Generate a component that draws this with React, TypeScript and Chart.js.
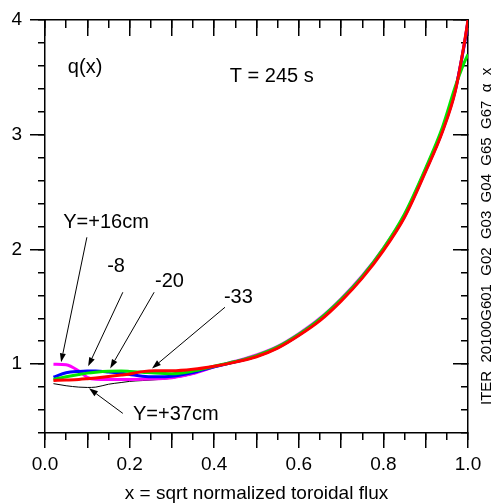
import React, { useEffect, useRef } from 'react';
import { Chart, registerables } from 'chart.js';

Chart.register(...registerables);

const FONT = '"Liberation Sans", Arial, Helvetica, sans-serif';

// x = sqrt normalized toroidal flux
const xValues = [0.02, 0.05, 0.08, 0.1, 0.12, 0.15, 0.18, 0.2, 0.23, 0.26, 0.3, 0.35, 0.4, 0.45, 0.5, 0.55, 0.6, 0.65, 0.7, 0.75, 0.8, 0.85, 0.9, 0.94, 0.97, 0.99, 1.0];

// q(x) for each vertical position
const qYminus33 = [0.858, 0.862, 0.867, 0.873, 0.88, 0.892, 0.905, 0.915, 0.935, 0.943, 0.942, 0.955, 0.982, 1.018, 1.065, 1.14, 1.25, 1.38, 1.55, 1.75, 1.99, 2.28, 2.68, 3.03, 3.38, 3.77, 4.0];
const qYminus20 = [0.867, 0.89, 0.91, 0.922, 0.93, 0.938, 0.94, 0.937, 0.93, 0.922, 0.917, 0.94, 0.982, 1.023, 1.075, 1.15, 1.26, 1.395, 1.565, 1.765, 2.01, 2.31, 2.71, 3.07, 3.42, 3.62, 3.7];
const qYminus8 = [0.887, 0.925, 0.937, 0.94, 0.94, 0.932, 0.92, 0.91, 0.895, 0.89, 0.895, 0.927, 0.978, 1.02, 1.07, 1.145, 1.255, 1.39, 1.56, 1.76, 2.0, 2.29, 2.69, 3.04, 3.39, 3.76, 3.99];
const qYplus16 = [1.0, 0.995, 0.94, 0.885, 0.868, 0.866, 0.867, 0.867, 0.868, 0.872, 0.882, 0.918, 0.976, 1.025, 1.08, 1.155, 1.265, 1.4, 1.57, 1.77, 2.01, 2.3, 2.7, 3.05, 3.39, 3.76, 3.99];
const qYplus37 = [0.83, 0.812, 0.8, 0.797, 0.8, 0.825, 0.84, 0.85, 0.857, 0.864, 0.877, 0.912, 0.972, 1.013, 1.06, 1.135, 1.245, 1.375, 1.545, 1.745, 1.985, 2.275, 2.675, 3.02, 3.38, 3.76, 3.99];

const seriesNames = ['Y=-33cm', 'Y=-20cm', 'Y=-8cm', 'Y=+16cm', 'Y=+37cm'];
const seriesValues = [qYminus33, qYminus20, qYminus8, qYplus16, qYplus37];
const seriesColors = ['#ff0000', '#00e600', '#0000ff', '#ff00ff', '#000000'];
const seriesWidths = [3, 3, 3, 3, 1];

// Axis ticks
const xMin = 0, xMax = 1, xMajorStep = 0.1, xMinorStep = 0.05;
const yMin = 0.4, yMax = 4, yMajorStep = 1, yMinorStep = 0.2;

// Text annotations (data coordinates of text baseline start)
const noteTexts = ['q(x)', 'T = 245 s', 'Y=+16cm', '-8', '-20', '-33', 'Y=+37cm'];
const noteX = [0.054, 0.437, 0.043, 0.147, 0.26, 0.423, 0.208];
const noteY = [3.537, 3.462, 2.185, 1.8, 1.67, 1.53, 0.51];

// Arrows: from (start) to (tip), in data coordinates
const arrowStartX = [0.099, 0.184, 0.258, 0.4255, 0.184];
const arrowStartY = [2.106, 1.627, 1.627, 1.496, 0.571];
const arrowTipX = [0.038, 0.102, 0.154, 0.253, 0.104];
const arrowTipY = [1.016, 0.981, 0.963, 0.963, 0.789];

const stampText = 'ITER  20100G601  G02  G03  G04  G65  G67  α  x';
const xTitle = 'x = sqrt normalized toroidal flux';

const annotationPlugin = {
  id: 'qAnnotations',
  afterDatasetsDraw(chart: any) {
    const { ctx, chartArea } = chart;
    const xs = chart.scales.x;
    const ys = chart.scales.y;
    ctx.save();
    ctx.fillStyle = '#000';
    ctx.strokeStyle = '#000';
    ctx.font = `20px ${FONT}`;
    ctx.textAlign = 'left';
    ctx.textBaseline = 'alphabetic';
    noteTexts.forEach((t, i) => {
      ctx.fillText(t, xs.getPixelForValue(noteX[i]), ys.getPixelForValue(noteY[i]));
    });
    ctx.lineWidth = 1;
    arrowStartX.forEach((_, i) => {
      const sx = xs.getPixelForValue(arrowStartX[i]);
      const sy = ys.getPixelForValue(arrowStartY[i]);
      const tx = xs.getPixelForValue(arrowTipX[i]);
      const ty = ys.getPixelForValue(arrowTipY[i]);
      const ang = Math.atan2(ty - sy, tx - sx);
      const len = 9, hw = 3;
      const bx = tx - len * Math.cos(ang);
      const by = ty - len * Math.sin(ang);
      ctx.beginPath();
      ctx.moveTo(sx, sy);
      ctx.lineTo(bx, by);
      ctx.stroke();
      ctx.beginPath();
      ctx.moveTo(tx, ty);
      ctx.lineTo(bx + hw * Math.sin(ang), by - hw * Math.cos(ang));
      ctx.lineTo(bx - hw * Math.sin(ang), by + hw * Math.cos(ang));
      ctx.closePath();
      ctx.fill();
    });
    ctx.translate(chartArea.right + 19, chartArea.bottom - 28);
    ctx.rotate(-Math.PI / 2);
    ctx.font = `15px ${FONT}`;
    ctx.textBaseline = 'middle';
    ctx.fillText(stampText, 0, 0);
    ctx.restore();
  },
};

const tickGrid = (len: number) => ({
  drawOnChartArea: false,
  drawTicks: true,
  tickLength: len,
  tickColor: '#000',
  tickWidth: 1.5,
  color: '#000',
  lineWidth: 1.5,
});

export default function App() {
  const canvasRef = useRef<HTMLCanvasElement | null>(null);

  useEffect(() => {
    document.body.style.margin = '0';
    const canvas = canvasRef.current;
    if (!canvas) return;
    const datasets = seriesValues.map((vals, i) => ({
      label: seriesNames[i],
      data: xValues.map((xv, j) => ({ x: xv, y: vals[j] })),
      borderColor: seriesColors[i],
      backgroundColor: seriesColors[i],
      borderWidth: seriesWidths[i],
      pointRadius: 0,
      tension: 0.3,
      cubicInterpolationMode: 'monotone' as const,
      fill: false,
    }));

    const chart = new Chart(canvas, {
      type: 'line',
      data: { datasets },
      plugins: [annotationPlugin],
      options: {
        animation: false,
        responsive: false,
        devicePixelRatio: 1,
        layout: { padding: 0 },
        plugins: { legend: { display: false }, tooltip: { enabled: false } },
        scales: {
          x: {
            type: 'linear', axis: 'x', position: 'bottom', min: xMin, max: xMax, weight: 1,
            ticks: {
              stepSize: xMajorStep, autoSkip: false, maxRotation: 0, padding: 5, color: '#000',
              font: { size: 19, family: FONT },
              callback: (v: any) => (Math.round(Number(v) * 10) % 2 === 0 ? Number(v).toFixed(1) : ''),
            },
            grid: tickGrid(15),
            border: { display: true, color: '#000', width: 1.5 },
            title: { display: true, text: xTitle, color: '#000', font: { size: 19, family: FONT, lineHeight: 1 }, padding: { top: 0, bottom: 0 } },
            afterFit: (s: any) => { s.height = 70; },
          },
          xMinor: {
            type: 'linear', axis: 'x', position: 'bottom', min: xMin, max: xMax, weight: 0,
            ticks: { stepSize: xMinorStep, display: false, autoSkip: false },
            grid: tickGrid(7),
            border: { display: false },
            afterFit: (s: any) => { s.height = 0; },
          },
          xTop: {
            type: 'linear', axis: 'x', position: 'top', min: xMin, max: xMax, weight: 1,
            ticks: { stepSize: xMajorStep, display: false, autoSkip: false },
            grid: tickGrid(-16),
            border: { display: true, color: '#000', width: 1.5 },
            afterFit: (s: any) => { s.height = 20; },
          },
          xTopMinor: {
            type: 'linear', axis: 'x', position: 'top', min: xMin, max: xMax, weight: 0,
            ticks: { stepSize: xMinorStep, display: false, autoSkip: false },
            grid: tickGrid(-8),
            border: { display: false },
            afterFit: (s: any) => { s.height = 0; },
          },
          y: {
            type: 'linear', axis: 'y', position: 'left', min: yMin, max: yMax, weight: 1,
            ticks: {
              stepSize: yMajorStep, includeBounds: false, padding: 8, color: '#000',
              font: { size: 19, family: FONT },
              callback: (v: any) => String(v),
            },
            grid: tickGrid(15),
            border: { display: true, color: '#000', width: 1.5 },
            afterFit: (s: any) => { s.width = 45; },
          },
          yMinor: {
            type: 'linear', axis: 'y', position: 'left', min: yMin, max: yMax, weight: 0,
            ticks: { stepSize: yMinorStep, display: false, includeBounds: false },
            grid: tickGrid(7),
            border: { display: false },
            afterFit: (s: any) => { s.width = 0; },
          },
          yRight: {
            type: 'linear', axis: 'y', position: 'right', min: yMin, max: yMax, weight: 1,
            ticks: { stepSize: yMajorStep, display: false, includeBounds: false },
            grid: tickGrid(-15),
            border: { display: true, color: '#000', width: 1.5 },
            afterFit: (s: any) => { s.width = 25; },
          },
          yRightMinor: {
            type: 'linear', axis: 'y', position: 'right', min: yMin, max: yMax, weight: 0,
            ticks: { stepSize: yMinorStep, display: false, includeBounds: false },
            grid: tickGrid(-7),
            border: { display: false },
            afterFit: (s: any) => { s.width = 0; },
          },
        },
      } as any,
    });
    return () => chart.destroy();
  }, []);

  return (
    <div style={{ position: 'fixed', left: 0, top: 0, width: 493, height: 503, background: '#fff' }}>
      <canvas ref={canvasRef} width={493} height={503} style={{ display: 'block' }} />
    </div>
  );
}
